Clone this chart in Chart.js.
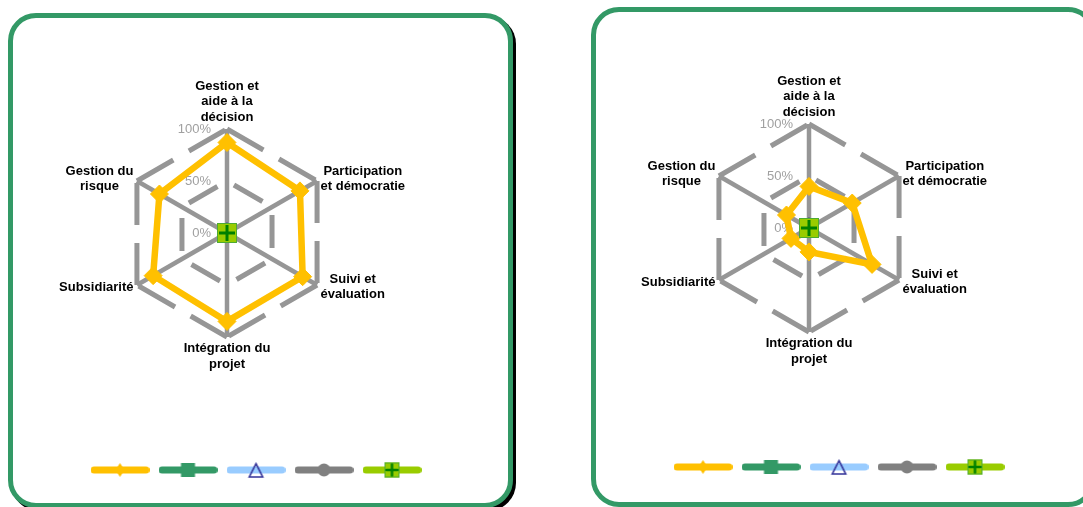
<!DOCTYPE html>
<html>
<head>
<meta charset="utf-8">
<script src="https://cdn.jsdelivr.net/npm/chart.js@4.4.1/dist/chart.umd.min.js"></script>
<style>
html, body { margin: 0; padding: 0; background: #fff; width: 1083px; height: 507px; overflow: hidden; position: relative; }
.card { position: absolute; box-sizing: border-box; border: 5px solid #339966; border-radius: 28px; background: #fff; }
#cardA { left: 8px; top: 13px; width: 505px; height: 495px; box-shadow: 3px 3px 0 #000; }
#cardB { left: 591px; top: 7px; width: 505px; height: 500px; }
canvas { position: absolute; top: 0; }
#chartA { left: 0; }
#chartB { left: 580px; }
</style>
</head>
<body>
<div class="card" id="cardA"></div>
<div class="card" id="cardB"></div>
<canvas id="chartA" width="540" height="507"></canvas>
<canvas id="chartB" width="503" height="507"></canvas>
<script>
// axes of the radar
const axes = [
    ['Gestion et', 'aide à la', 'décision'],
    ['Participation', 'et démocratie'],
    ['Suivi et', 'évaluation'],
    ['Intégration du', 'projet'],
    ['Subsidiarité'],
    ['Gestion du', 'risque']
]
// series 1 (yellow) on each card, the other four series sit at 0
const leftSerie1 = [0.87, 0.81, 0.84, 0.85, 0.82, 0.75]
const rightSerie1 = [0.40, 0.48, 0.70, 0.23, 0.20, 0.25]
const otherSeries = [0, 0, 0, 0, 0, 0]
const tickValues = [0, 0.5, 1]
const tickLabels = ['0%', '50%', '100%']

const colors = ['#FFC000', '#339966', '#99CCFF', '#808080', '#99CC00']
const gridGray = '#969696'

// marker drawers, used for the legend pictures
const markers = [
    (g, x, y) => { g.fillStyle = '#FFC000'; g.beginPath(); g.moveTo(x, y - 7); g.lineTo(x + 4.5, y); g.lineTo(x, y + 7); g.lineTo(x - 4.5, y); g.closePath(); g.fill() },
    (g, x, y) => { g.fillStyle = '#339966'; g.fillRect(x - 7, y - 7, 14, 14) },
    (g, x, y) => { g.strokeStyle = '#333399'; g.lineWidth = 1.6; g.beginPath(); g.moveTo(x, y - 6.3); g.lineTo(x + 6.7, y + 7); g.lineTo(x - 6.7, y + 7); g.closePath(); g.stroke() },
    (g, x, y) => { g.fillStyle = '#808080'; g.beginPath(); g.arc(x, y, 6.5, 0, Math.PI * 2); g.fill() },
    (g, x, y) => { crossSquare(g, x, y, 15) }
]

function crossSquare(g, x, y, size) {
    const h = size / 2
    g.fillStyle = '#99CC00'
    g.fillRect(x - h, y - h, size, size)
    g.strokeStyle = '#4DAA33'
    g.lineWidth = 1
    g.strokeRect(x - h + 0.5, y - h + 0.5, size - 1, size - 1)
    g.strokeStyle = '#008000'
    g.lineWidth = size > 16 ? 3 : 2.5
    g.beginPath()
    g.moveTo(x - h + 2, y); g.lineTo(x + h - 2, y)
    g.moveTo(x, y - h + 2); g.lineTo(x, y + h - 2)
    g.stroke()
}

function legendIcon(i) {
    const c = document.createElement('canvas')
    c.width = 59
    c.height = 18
    const g = c.getContext('2d')
    g.strokeStyle = colors[i]
    g.lineWidth = 7
    g.lineCap = 'round'
    g.beginPath(); g.moveTo(3.5, 9); g.lineTo(55.5, 9); g.stroke()
    markers[i](g, 29.5, 9)
    return c
}

function centerMarker() {
    const c = document.createElement('canvas')
    c.width = 20
    c.height = 20
    crossSquare(c.getContext('2d'), 10, 10, 20)
    return c
}

const icons = colors.map((c, i) => legendIcon(i))
const pointStyles = ['rectRot', 'rect', 'triangle', 'circle', centerMarker()]

// axis names and the % ticks, placed like Excel does
const cardText = {
    id: 'cardText',
    beforeDatasetsDraw(chart) {
        const s = chart.scales.r
        const ctx = chart.ctx
        ctx.save()
        ctx.font = '13px "Liberation Sans", Arial, sans-serif'
        ctx.fillStyle = '#a0a0a0'
        ctx.textAlign = 'right'
        ctx.textBaseline = 'middle'
        tickValues.forEach((v, i) => {
            ctx.fillText(tickLabels[i], s.xCenter - 16, s.yCenter - s.getDistanceFromCenterForValue(v))
        })

        ctx.font = 'bold 13px "Liberation Sans", Arial, sans-serif'
        ctx.fillStyle = '#000'
        ctx.textAlign = 'center'
        const lh = 15.5
        const n = chart.data.labels.length
        chart.data.labels.forEach((lines, i) => {
            const p = s.getPointPosition(i, s.drawingArea + 4)
            const deg = Math.round(i * 360 / n)
            const w = Math.max(...lines.map(l => ctx.measureText(l).width))
            const h = lines.length * lh
            let cx = p.x
            let top = p.y - h / 2
            if (deg === 0) top = p.y - h
            else if (deg === 180) top = p.y
            else if (deg < 180) cx = p.x + w / 2
            else cx = p.x - w / 2
            lines.forEach((l, k) => ctx.fillText(l, cx, top + lh * (k + 0.5)))
        })
        ctx.restore()
    }
}

function makeCard(id, serie1, plot, pad) {
    const datasets = colors.map((c, i) => ({
        label: '',
        data: i === 0 ? serie1 : otherSeries,
        borderColor: c,
        backgroundColor: c,
        borderWidth: 6.5,
        fill: false,
        pointStyle: pointStyles[i],
        pointRadius: 9,
        pointBackgroundColor: i === 2 ? 'rgba(0,0,0,0)' : c,
        pointBorderColor: i === 2 ? '#333399' : c,
        pointBorderWidth: i === 2 ? 1.5 : 1,
        order: i === 4 ? 0 : i + 1
    }))

    new Chart(document.getElementById(id), {
        type: 'radar',
        data: { labels: axes, datasets: datasets },
        options: {
            responsive: false,
            animation: false,
            layout: { padding: pad },
            plugins: {
                tooltip: { enabled: false },
                legend: {
                    position: 'bottom',
                    align: 'center',
                    labels: {
                        usePointStyle: true,
                        pointStyleWidth: 59,
                        padding: 8,
                        font: { size: 2 },
                        generateLabels: () => icons.map((ic, i) => ({
                            text: '',
                            pointStyle: ic,
                            fillStyle: 'rgba(0,0,0,0)',
                            strokeStyle: 'rgba(0,0,0,0)',
                            lineWidth: 0,
                            hidden: false,
                            datasetIndex: i
                        }))
                    }
                }
            },
            scales: {
                r: {
                    min: 0,
                    max: 1,
                    ticks: { display: false, stepSize: 0.5 },
                    pointLabels: { display: false },
                    grid: { color: gridGray, lineWidth: 5 },
                    border: {
                        dash: (c) => c.tick && c.tick.value >= 1 ? [42, 18, 42, 2] : [33, 19],
                        dashOffset: (c) => c.tick && c.tick.value >= 1 ? 0 : 44
                    },
                    angleLines: { color: gridGray, lineWidth: 4.5 },
                    afterFit: (s) => {
                        s.xCenter = plot.x
                        s.yCenter = plot.y
                        s.drawingArea = plot.r
                    }
                }
            }
        },
        plugins: [cardText]
    })
}

makeCard('chartA', leftSerie1, { x: 227, y: 233, r: 104 }, { left: 0, right: 27, top: 0, bottom: 26 })
makeCard('chartB', rightSerie1, { x: 229, y: 228, r: 104 }, { left: 16, right: 0, top: 0, bottom: 29 })
</script>
</body>
</html>
